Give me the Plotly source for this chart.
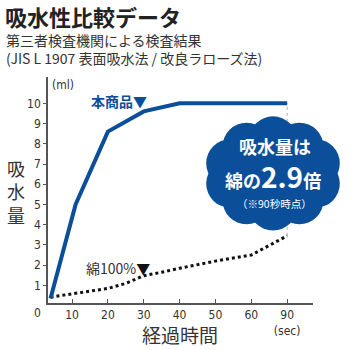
import math
import plotly.graph_objects as go

# --- data -------------------------------------------------------------
product_t = [4, 11, 20, 30, 40, 90]          # seconds
product_ml = [0.35, 5.0, 8.6, 9.6, 10.0, 10.0]

cotton_t = [4, 10, 20, 25, 30, 35, 40, 50, 60, 90]
cotton_ml = [0.42, 0.57, 0.85, 1.1, 1.48, 1.65, 1.85, 2.2, 2.5, 3.45]

x_ticks_s = [10, 20, 30, 40, 50, 60, 90]
y_ticks = [1, 2, 3, 4, 5, 6, 7, 8, 9, 10]

BLUE = "#0b4f9a"
INK = "#333333"
JP = "Noto Sans CJK JP, sans-serif"
NUM = "Liberation Sans Narrow, DejaVu Sans Condensed, Arial Narrow, sans-serif"

# axis is compressed after 60 s (60 -> 90 drawn as 10 units)
def xpos(t):
    return t if t <= 60 else 60 + (t - 60) / 3

# layout geometry (pixels)
FW, FH = 350, 350
L, R, T, B = 48, 37, 77, 41
PW, PH = FW - L - R, FH - T - B

def px(x):
    return (x - L) / PW

def py(y):
    return (FH - B - y) / PH

fig = go.Figure()

# guide between the two 90 s values
fig.add_trace(go.Scatter(
    x=[xpos(90), xpos(90)], y=[cotton_ml[-1], product_ml[-1]],
    mode="lines", line=dict(color="#999999", width=0.8, dash="dot"),
    hoverinfo="skip", showlegend=False))

fig.add_trace(go.Scatter(
    x=[xpos(t) for t in cotton_t], y=cotton_ml, mode="lines",
    line=dict(color="#111111", width=3, dash="dot"), showlegend=False))

fig.add_trace(go.Scatter(
    x=[xpos(t) for t in product_t], y=product_ml, mode="lines",
    line=dict(color=BLUE, width=4), showlegend=False))

# scalloped badge
cx, cy = 273, 176
shapes = []
def circle(x, y, rx, ry):
    shapes.append(dict(
        type="circle", xref="paper", yref="paper",
        xsizemode="pixel", ysizemode="pixel",
        xanchor=px(x), yanchor=py(y),
        x0=-rx, x1=rx, y0=-ry, y1=ry,
        fillcolor=BLUE, line=dict(width=0), layer="above"))

circle(cx, cy, 52, 42)
n = 10
for k in range(n):
    a = math.radians(90 + k * 360 / n)
    circle(cx + 45 * math.cos(a), cy - 34 * math.sin(a), 24, 24)

annotations = [
    dict(text="<b>吸水性比較データ</b>", x=px(3), y=py(14), xanchor="left",
         yanchor="middle", font=dict(family=JP, size=22, color="#222222")),
    dict(text="第三者検査機関による検査結果", x=px(4), y=py(39), xanchor="left",
         yanchor="middle", font=dict(family=JP, size=14, color=INK)),
    dict(text="(JIS L 1907 表面吸水法 / 改良ラローズ法)", x=px(4), y=py(58),
         xanchor="left", yanchor="middle",
         font=dict(family=JP, size=14, color=INK)),
    dict(text="(ml)", x=px(63), y=py(85), xanchor="center", yanchor="middle",
         font=dict(family=NUM, size=12, color=INK)),
    dict(text="吸<br>水<br>量", x=px(16), y=py(195), xanchor="center",
         yanchor="middle", font=dict(family=JP, size=18, color=INK)),
    dict(text="経過時間", x=px(180), y=py(341), xanchor="center",
         yanchor="middle", font=dict(family=JP, size=19, color=INK)),
    dict(text="0", x=px(37), y=py(319), xanchor="center", yanchor="middle",
         font=dict(family=NUM, size=12, color=INK)),
    dict(text="<b>本商品▼</b>", x=px(119), y=py(102), xanchor="center",
         yanchor="middle", font=dict(family=JP, size=14, color=BLUE)),
    dict(text="綿100%<span style='color:#111111'>▼</span>", x=px(118),
         y=py(273), xanchor="center", yanchor="middle",
         font=dict(family=JP, size=14, color=INK)),
    dict(text="<b>吸水量は</b>", x=px(275), y=py(147.5), xanchor="center",
         yanchor="middle", font=dict(family=JP, size=18, color="white")),
    dict(text="<b>綿の<span style='font-size:28px'>2.9</span>倍</b>",
         x=px(273), y=py(179), xanchor="center", yanchor="middle",
         font=dict(family=JP, size=18, color="white")),
    dict(text="（※90秒時点）", x=px(274), y=py(207), xanchor="center",
         yanchor="middle", font=dict(family=JP, size=10.5, color="white")),
]
for a in annotations:
    a.setdefault("xref", "paper")
    a.setdefault("yref", "paper")
    a["showarrow"] = False

fig.update_layout(
    width=FW, height=FH, margin=dict(l=L, r=R, t=T, b=B),
    paper_bgcolor="white", plot_bgcolor="white",
    shapes=shapes, annotations=annotations,
    xaxis=dict(range=[3.3, 77.2], tickvals=[xpos(t) for t in x_ticks_s],
               ticktext=[str(t) for t in x_ticks_s[:-1]] + ["90<br>(sec)"],
               showgrid=False, zeroline=False, showline=True,
               linecolor="#555555", linewidth=1.5, ticks="inside",
               ticklen=4, tickcolor="#555555",
               tickfont=dict(family=NUM, size=12, color=INK)),
    yaxis=dict(range=[0.13, 11.3], tickvals=y_ticks,
               showgrid=False, zeroline=False, showline=True,
               linecolor="#555555", linewidth=1.5, ticks="outside",
               ticklen=3, tickcolor="#555555",
               tickfont=dict(family=NUM, size=12, color=INK)),
)

fig.write_html("out.html")
